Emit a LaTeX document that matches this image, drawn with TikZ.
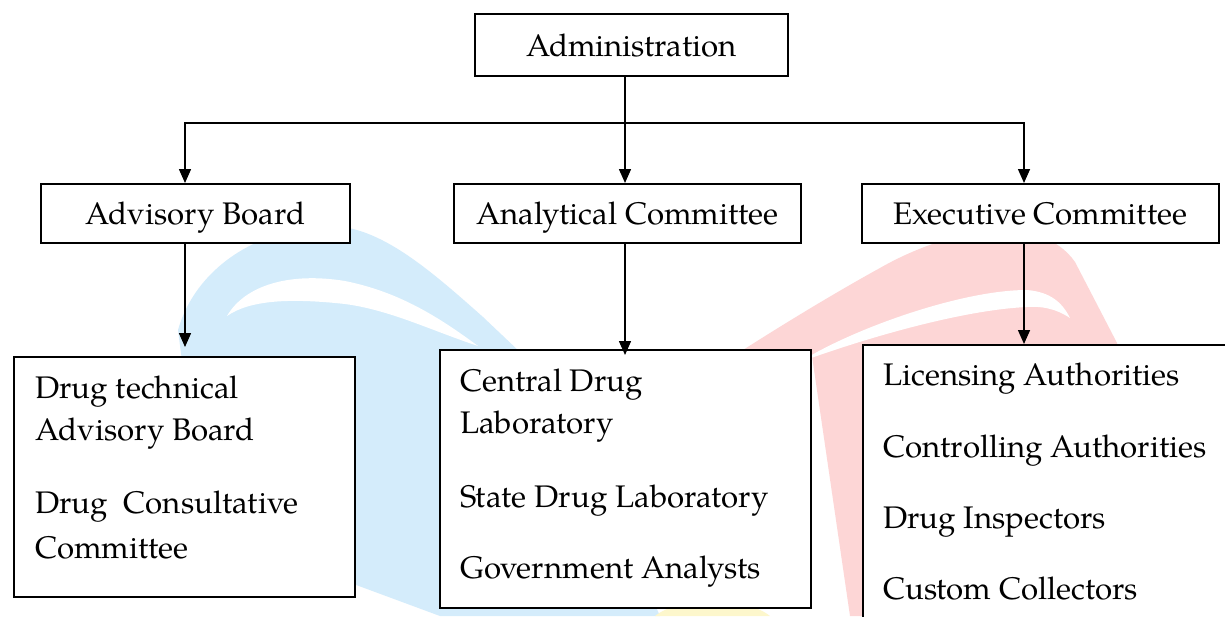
\documentclass[tikz,border=0pt]{standalone}
\usepackage{fontspec}
\setmainfont{texgyrepagella-regular.otf}
\usetikzlibrary{arrows.meta}

\definecolor{wmblue}{RGB}{212,236,251}
\definecolor{wmred}{RGB}{253,214,214}
\definecolor{wmyellow}{RGB}{253,247,204}

\tikzset{
  x=1pt, y=1pt,
  box/.style={draw=black, fill=white, line width=1.6pt, inner sep=0pt,
              anchor=north west, text height=23pt, text depth=0pt,
              font=\fontsize{31.2}{37}\selectfont},
  item/.style={anchor=base west, inner sep=0pt, font=\fontsize{31.2}{37}\selectfont},
  arr/.style={line width=1.5pt, -{Triangle[length=14pt,width=12pt]}},
}

\begin{document}
\begin{tikzpicture}
\clip (0,0) rectangle (1225,-616);
\fill[white] (0,0) rectangle (1225,-616);

% faint logo in the background
\fill[wmblue] (178,-330) .. controls (195,-270) and (255,-228) .. (330,-226)
  .. controls (380,-226) and (430,-270) .. (483,-317) -- (560,-390) -- (660,-616)
  -- (440,-616) -- (340,-579) -- (200,-500) -- cycle;
\fill[white] (227,-316) .. controls (245,-285) and (290,-272) .. (345,-281)
  .. controls (400,-292) and (440,-318) .. (478,-346)
  .. controls (430,-330) and (390,-310) .. (345,-304)
  .. controls (290,-298) and (250,-300) .. cycle;
\fill[wmred] (700,-390) -- (743,-350) .. controls (790,-320) and (840,-290) .. (880,-268)
  .. controls (950,-228) and (1040,-212) .. (1075,-262)
  -- (1117,-343) -- (1150,-616) -- (850,-616) -- (812,-356) -- cycle;
\fill[white] (800,-362) .. controls (850,-330) and (960,-290) .. (1027,-290)
  .. controls (1050,-292) and (1062,-302) .. (1070,-318)
  .. controls (1055,-308) and (1040,-306) .. (1027,-307)
  .. controls (960,-310) and (860,-340) .. cycle;
\fill[wmyellow] (655,-616) .. controls (680,-596) and (745,-596) .. (770,-616) -- cycle;

% boxes
\node[box, minimum width=313pt, minimum height=62pt] (admin) at (474,-13) {Administration};
\node[box, minimum width=309pt, minimum height=59pt] (adv) at (40,-183) {Advisory Board};
\node[box, minimum width=347pt, minimum height=59pt] (anal) at (453,-183) {Analytical Committee};
\node[box, minimum width=357pt, minimum height=59pt] (exec) at (861,-183) {Executive Committee};
\node[box, minimum width=341pt, minimum height=240pt] (advlist) at (13,-356) {};
\node[box, minimum width=371pt, minimum height=258pt] (anallist) at (439,-349) {};
\node[box, minimum width=420pt, minimum height=320pt] (execlist) at (862,-344) {};

% list entries
\node[item] (a1) at (35,-398) {Drug technical};
\node[item] (a2) at (35,-440) {Advisory Board};
\node[item] (a3) at (35,-513) {Drug\ \ Consultative};
\node[item] (a4) at (35,-558) {Committee};

\node[item] (b1) at (460,-391) {Central Drug};
\node[item] (b2) at (460,-433) {Laboratory};
\node[item] (b3) at (460,-507) {State Drug Laboratory};
\node[item] (b4) at (460,-578) {Government Analysts};

\node[item] (c1) at (883,-385) {Licensing Authorities};
\node[item] (c2) at (883,-457) {Controlling Authorities};
\node[item] (c3) at (883,-528) {Drug Inspectors};
\node[item] (c4) at (883,-599) {Custom Collectors};

% connector points
\coordinate (split) at (625,-123);
\coordinate (advin) at (185,-183);
\coordinate (execin) at (1024,-183);
\coordinate (advtip) at (185,-347);
\coordinate (analtip) at (625,-355);
\coordinate (exectip) at (1024,-344);

% connectors
\draw[line width=1.5pt] (admin.south -| split) -- (split);
\draw[arr] (split) -- (anal.north -| split);
\draw[arr] (split) -| (advin);
\draw[arr] (split) -| (execin);
\draw[arr] (adv.south -| advin) -- (advtip);
\draw[arr] (anal.south -| split) -- (analtip);
\draw[arr] (exec.south -| execin) -- (exectip);
\end{tikzpicture}
\end{document}
